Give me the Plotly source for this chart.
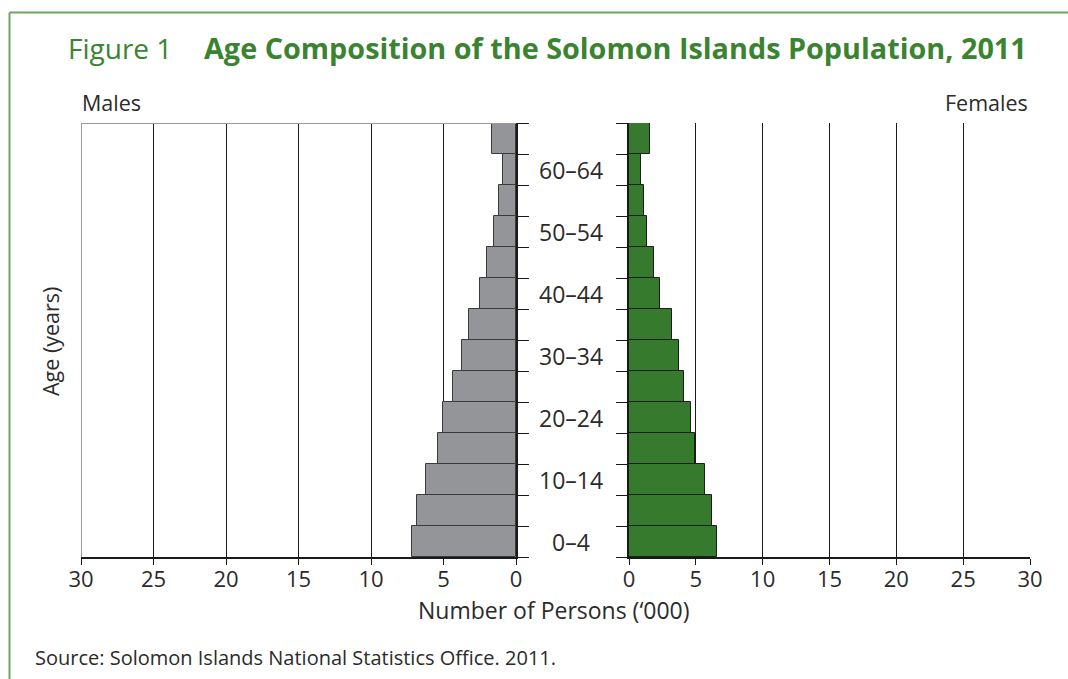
import plotly.graph_objects as go
from plotly.subplots import make_subplots

age_groups = ["0–4", "5–9", "10–14", "15–19", "20–24", "25–29", "30–34",
              "35–39", "40–44", "45–49", "50–54", "55–59", "60–64", "65+"]
males = [7.15, 6.8, 6.2, 5.4, 5.05, 4.35, 3.75, 3.25, 2.45, 2.0, 1.5, 1.2, 0.87, 1.68]
females = [6.58, 6.23, 5.68, 4.96, 4.66, 4.11, 3.74, 3.22, 2.34, 1.9, 1.35, 1.15, 0.9, 1.57]
x_ticks = [0, 5, 10, 15, 20, 25, 30]
label_groups = ["0–4", "10–14", "20–24", "30–34", "40–44", "50–54", "60–64"]

W, H = 1068, 679
FONT = "Open Sans"
GREEN = "#3a8431"
BAR_GREEN = "#357a2d"
GRAY_BAR = "#939598"
TXT = "#2b2b2b"

def px(x):
    return x / W

def py(y):
    return 1 - y / H

ypos = list(range(len(age_groups)))

fig = make_subplots(rows=1, cols=2)
fig.add_trace(go.Bar(y=ypos, x=males, orientation="h", width=1,
                     marker=dict(color=GRAY_BAR, line=dict(color="#3a3a3a", width=1)),
                     showlegend=False, hoverinfo="x"), row=1, col=1)
fig.add_trace(go.Bar(y=ypos, x=females, orientation="h", width=1,
                     marker=dict(color=BAR_GREEN, line=dict(color="#1e1e1e", width=1)),
                     showlegend=False, hoverinfo="x"), row=1, col=2)

ydom = [py(557), py(123)]
boundaries = [i - 0.5 for i in range(len(age_groups) + 1)]
xax_common = dict(tickvals=x_ticks, ticktext=[str(t) for t in x_ticks],
                  showgrid=True, gridcolor="#1a1a1a", gridwidth=1,
                  zeroline=False, showline=True, linecolor="#1a1a1a", linewidth=1.5,
                  ticks="outside", ticklen=6, tickcolor="#1a1a1a", automargin=False,
                  ticklabelstandoff=-4,
                  tickfont=dict(family=FONT, size=22, color=TXT), fixedrange=True)
yax_common = dict(domain=ydom, range=[-0.5, len(age_groups) - 0.5],
                  tickvals=boundaries, showticklabels=False, ticks="outside", ticklen=11,
                  tickcolor="#1a1a1a", showline=True, linecolor="#1a1a1a", linewidth=1.5,
                  showgrid=False, zeroline=False, fixedrange=True, automargin=False)
fig.update_layout(
    xaxis=dict(domain=[px(81), px(516)], range=[30, 0], **xax_common),
    xaxis2=dict(domain=[px(629), px(1030)], range=[0, 30], **xax_common),
    yaxis=dict(side="right", **yax_common),
    yaxis2=dict(side="left", **yax_common),
    width=W, height=H, autosize=False,
    margin=dict(l=0, r=0, t=0, b=0, pad=0, autoexpand=False),
    paper_bgcolor="white", plot_bgcolor="white", bargap=0, barmode="overlay",
    font=dict(family=FONT, color=TXT),
)

shapes = [
    dict(type="line", xref="paper", yref="paper", x0=px(9.5), x1=1, y0=py(12.5), y1=py(12.5),
         line=dict(color="#6fa466", width=2)),
    dict(type="line", xref="paper", yref="paper", x0=px(9.5), x1=px(9.5), y0=py(12.5), y1=0,
         line=dict(color="#6fa466", width=2)),
    dict(type="line", xref="x", yref="y", x0=30, x1=30, y0=-0.5, y1=len(age_groups) - 0.5,
         line=dict(color="#9a9a9a", width=2), layer="above"),
    dict(type="line", xref="x", yref="y", x0=30, x1=0, y0=len(age_groups) - 0.5, y1=len(age_groups) - 0.5,
         line=dict(color="#9a9a9a", width=2), layer="above"),
]
fig.update_layout(shapes=shapes)

ann = []
for g in label_groups:
    ann.append(dict(x=px(571), xref="paper", y=age_groups.index(g), yref="y",
                    text=g, showarrow=False, xanchor="center", yanchor="middle",
                    font=dict(family=FONT, size=23, color=TXT)))
ann += [
    dict(x=px(66), y=py(48), xref="paper", yref="paper", text="Figure 1", showarrow=False,
         xanchor="left", yanchor="middle", font=dict(family=FONT, size=28, color=GREEN)),
    dict(x=px(202), y=py(48), xref="paper", yref="paper",
         text="<b>Age Composition of the Solomon Islands Population, 2011</b>", showarrow=False,
         xanchor="left", yanchor="middle", font=dict(family=FONT, size=28.8, color=GREEN)),
    dict(x=px(80), y=py(102), xref="paper", yref="paper", text="Males", showarrow=False,
         xanchor="left", yanchor="middle", font=dict(family=FONT, size=21.5, color=TXT)),
    dict(x=px(1030), y=py(102), xref="paper", yref="paper", text="Females", showarrow=False,
         xanchor="right", yanchor="middle", font=dict(family=FONT, size=21.5, color=TXT)),
    dict(x=px(50), y=py(342), xref="paper", yref="paper", text="Age (years)", showarrow=False,
         textangle=-90, xanchor="center", yanchor="middle",
         font=dict(family=FONT, size=21.5, color=TXT)),
    dict(x=px(554), y=py(610), xref="paper", yref="paper", text="Number of Persons (‘000)",
         showarrow=False, xanchor="center", yanchor="middle",
         font=dict(family=FONT, size=23, color=TXT)),
    dict(x=px(33), y=py(657), xref="paper", yref="paper",
         text="Source: Solomon Islands National Statistics Office. 2011.", showarrow=False,
         xanchor="left", yanchor="middle", font=dict(family=FONT, size=20, color=TXT)),
]
fig.update_layout(annotations=ann)

post = ("document.documentElement.style.margin='0';document.body.style.margin='0';"
        "document.body.style.padding='0';document.body.style.overflow='hidden';"
        "document.documentElement.style.overflow='hidden';")
fig.write_html("out.html", post_script=post, config={"displayModeBar": False})
